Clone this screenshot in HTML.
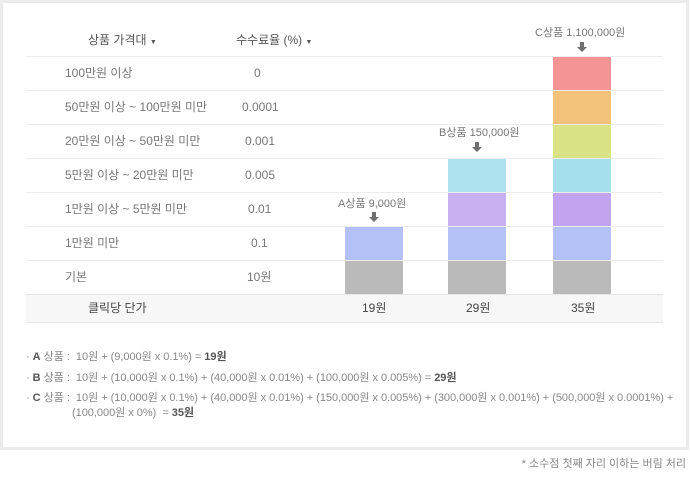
<!DOCTYPE html>
<html><head><meta charset="utf-8"><style>
*{margin:0;padding:0;box-sizing:border-box}
body{width:690px;height:485px;background:#fff;position:relative;overflow:hidden;font-family:"Liberation Sans","Noto Sans CJK KR","NanumGothic",sans-serif;color:#777;font-size:12px}
.panel{position:absolute;left:0;top:0;width:689px;height:450px;background:#fff;border:3px solid #ebebeb}
.t{position:absolute;white-space:nowrap;line-height:14px}
.hl{position:absolute;left:26px;width:637px;height:1px;background:#ececec}
.bar{position:absolute;width:58px;height:33px}
.foot{position:absolute;left:26px;top:294px;width:637px;height:29px;background:#f7f7f7;border-top:1px solid #e6e6e6;border-bottom:1px solid #e6e6e6}
.f{position:absolute;left:26px;font-size:11px;color:#888;white-space:nowrap;letter-spacing:-0.03px;line-height:14px}
.f b{color:#555}
</style></head><body>
<div class="panel"></div>
<div class="t" style="left:88px;top:33px;color:#555">상품 가격대 <span style="font-size:7px">▼</span></div>
<div class="t" style="left:236px;top:33px;color:#555">수수료율 (%) <span style="font-size:7px">▼</span></div>
<div class="hl" style="top:56px"></div><div class="hl" style="top:90px"></div><div class="hl" style="top:124px"></div><div class="hl" style="top:158px"></div><div class="hl" style="top:192px"></div><div class="hl" style="top:226px"></div><div class="hl" style="top:260px"></div>
<div class="t" style="left:65px;top:66px">100만원 이상</div><div class="t" style="left:254px;top:66px">0</div>
<div class="t" style="left:65px;top:100px">50만원 이상 ~ 100만원 미만</div><div class="t" style="left:242px;top:100px">0.0001</div>
<div class="t" style="left:65px;top:134px">20만원 이상 ~ 50만원 미만</div><div class="t" style="left:245px;top:134px">0.001</div>
<div class="t" style="left:65px;top:168px">5만원 이상 ~ 20만원 미만</div><div class="t" style="left:245px;top:168px">0.005</div>
<div class="t" style="left:65px;top:202px">1만원 이상 ~ 5만원 미만</div><div class="t" style="left:248px;top:202px">0.01</div>
<div class="t" style="left:65px;top:236px">1만원 미만</div><div class="t" style="left:251px;top:236px">0.1</div>
<div class="t" style="left:65px;top:270px">기본</div><div class="t" style="left:247px;top:270px">10원</div>
<div class="foot"></div>
<div class="t" style="left:88px;top:301px;color:#444">클릭당 단가</div>
<div class="t" style="left:362px;top:301px;color:#444">19원</div>
<div class="t" style="left:466px;top:301px;color:#444">29원</div>
<div class="t" style="left:571px;top:301px;color:#444">35원</div>
<div class="bar" style="left:345px;top:227px;background:#b3c1f7"></div>
<div class="bar" style="left:345px;top:261px;background:#bababa"></div>
<div class="bar" style="left:448px;top:159px;background:#ade3ee"></div>
<div class="bar" style="left:448px;top:193px;background:#c8aff0"></div>
<div class="bar" style="left:448px;top:227px;background:#b3c1f7"></div>
<div class="bar" style="left:448px;top:261px;background:#bababa"></div>
<div class="bar" style="left:553px;top:57px;background:#f49494"></div>
<div class="bar" style="left:553px;top:91px;background:#f2c27a"></div>
<div class="bar" style="left:553px;top:125px;background:#d9e385"></div>
<div class="bar" style="left:553px;top:159px;background:#a5dfeb"></div>
<div class="bar" style="left:553px;top:193px;background:#c1a3ef"></div>
<div class="bar" style="left:553px;top:227px;background:#b3c1f7"></div>
<div class="bar" style="left:553px;top:261px;background:#bababa"></div>
<div class="t" style="left:338px;top:197px;font-size:11px">A상품 9,000원</div>
<div class="t" style="left:439px;top:126px;font-size:11px">B상품 150,000원</div>
<div class="t" style="left:535px;top:26px;font-size:11px">C상품 1,100,000원</div>
<svg style="position:absolute;left:0;top:0" width="690" height="485">
<g fill="#6f6f6f">
<path d="M372,212h4v5h3l-5,5l-5,-5h3z"/>
<path d="M475,142h4v5h3l-5,5l-5,-5h3z"/>
<path d="M580,42h4v5h3l-5,5l-5,-5h3z"/>
</g></svg>
<div class="f" style="top:350px">· <b>A</b> 상품 :&nbsp; 10원 + (9,000원 x 0.1%) = <b>19원</b></div>
<div class="f" style="top:371px">· <b>B</b> 상품 :&nbsp; 10원 + (10,000원 x 0.1%) + (40,000원 x 0.01%) + (100,000원 x 0.005%) = <b>29원</b></div>
<div class="f" style="top:391px">· <b>C</b> 상품 :&nbsp; 10원 + (10,000원 x 0.1%) + (40,000원 x 0.01%) + (150,000원 x 0.005%) + (300,000원 x 0.001%) + (500,000원 x 0.0001%) +</div>
<div class="f" style="top:406px;left:72px">(100,000원 x 0%)&nbsp; = <b>35원</b></div>
<div class="t" style="right:4px;top:457px;font-size:11px;color:#888">* 소수점 첫째 자리 이하는 버림 처리</div>
</body></html>
